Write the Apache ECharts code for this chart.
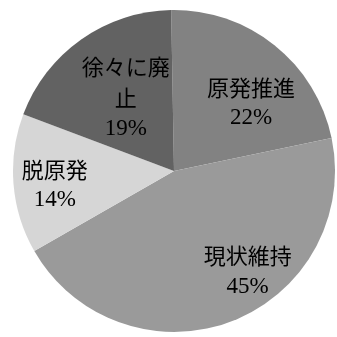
<!DOCTYPE html>
<html><head><meta charset="utf-8">
<script src="https://cdn.jsdelivr.net/npm/echarts@6/dist/echarts.min.js"></script>
<style>html,body{margin:0;padding:0;background:#fff}#c{width:337px;height:337px}</style>
</head><body><div id="c"></div>
<script>
const categories = ["原発推進", "現状維持", "脱原発", "徐々に廃\n止"];
const values = [22, 45, 14, 19];
const colors = ["#828282", "#9a9a9a", "#d6d6d6", "#626262"];
const labelShift = [[25, -3], [44, 22], [-36, 7], [0, -5]];

const chart = echarts.init(document.getElementById('c'), null, {renderer: 'canvas'});
chart.setOption({
  animation: false,
  backgroundColor: '#ffffff',
  series: [{
    type: 'pie',
    center: [174, 171],
    radius: [0, 161],
    startAngle: 91,
    clockwise: true,
    avoidLabelOverlap: false,
    itemStyle: {borderWidth: 0},
    label: {
      show: true,
      position: 'inside',
      color: '#000',
      textBorderWidth: 0,
      formatter: p => '{n|' + p.name.split('\n').join('}\n{n|') + '}\n{v|' + p.value + '%}',
      rich: {
        n: {fontFamily: 'Noto Sans CJK JP', fontSize: 22, color: '#000', lineHeight: 31, textBorderWidth: 0},
        v: {fontFamily: 'Liberation Serif', fontSize: 23, color: '#000', lineHeight: 31, textBorderWidth: 0}
      }
    },
    labelLayout: p => ({dx: labelShift[p.dataIndex][0], dy: labelShift[p.dataIndex][1]}),
    data: categories.map((c, i) => ({name: c, value: values[i], itemStyle: {color: colors[i]}}))
  }]
});
</script></body></html>
